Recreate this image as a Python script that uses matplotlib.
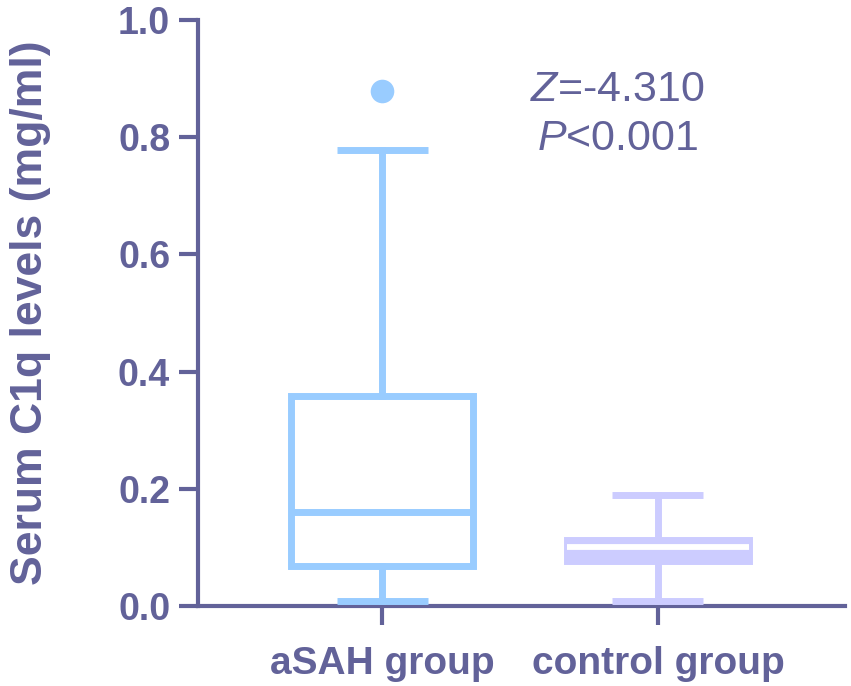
import matplotlib.pyplot as plt

plt.rcParams['font.family'] = ['Liberation Sans', 'DejaVu Sans']
plt.rcParams['mathtext.fontset'] = 'custom'
plt.rcParams['mathtext.it'] = 'Liberation Sans:italic'
plt.rcParams['mathtext.rm'] = 'Liberation Sans'

groups = ['aSAH group', 'control group']
whislo = [0.009, 0.009]
q1 = [0.069, 0.076]
med = [0.160, 0.101]
q3 = [0.359, 0.113]
whishi = [0.779, 0.190]
fliers = [[0.879], []]
yticks = [0.0, 0.2, 0.4, 0.6, 0.8, 1.0]

axis_col = '#626299'
blue = '#99CCFF'
lav = '#CCCCFF'

fig = plt.figure(figsize=(8.51, 6.86), dpi=100)
ax = fig.add_axes([0.2327, 0.1166, 0.7603, 0.8542])

stats = []
for i in range(len(groups)):
    stats.append(dict(whislo=whislo[i], q1=q1[i], med=med[i], q3=q3[i],
                      whishi=whishi[i], fliers=fliers[i], label=groups[i]))

pos = [1, 2]
cols = [blue, lav]
for i in range(len(groups)):
    filled = i == 1
    ax.bxp([stats[i]], positions=[pos[i]], widths=0.66, capwidths=0.33,
           patch_artist=True, manage_ticks=False,
           boxprops=dict(facecolor=cols[i] if filled else 'white', edgecolor=cols[i], linewidth=5),
           medianprops=dict(color='white' if filled else cols[i], linewidth=5 if not filled else 4.2,
                            solid_capstyle='butt'),
           whiskerprops=dict(color=cols[i], linewidth=5),
           capprops=dict(color=cols[i], linewidth=5, solid_capstyle='butt'),
           flierprops=dict(marker='o', markerfacecolor=cols[i], markeredgecolor='none',
                           markersize=17))

ax.set_xlim(0.333, 2.678)
ax.set_ylim(0, 1.0)
ax.set_xticks(pos)
ax.set_xticklabels(groups, fontsize=28, fontweight='bold', color=axis_col)
ax.set_yticks(yticks)
ax.set_yticklabels(['%.1f' % v for v in yticks], fontsize=27, fontweight='bold', color=axis_col)
ax.tick_params(axis='both', length=14, width=3, color=axis_col, pad=6)
ax.tick_params(axis='x', pad=15)

for s in ['top', 'right']:
    ax.spines[s].set_visible(False)
for s in ['left', 'bottom']:
    ax.spines[s].set_linewidth(3)
    ax.spines[s].set_color(axis_col)
    ax.spines[s].set_zorder(1)

ax.set_ylabel('Serum C1q levels (mg/ml)', fontsize=32, fontweight='bold', color=axis_col, labelpad=48)

ax.text(0.648, 0.88, r'$\mathit{Z}$=-4.310', transform=ax.transAxes, ha='center', va='center',
        fontsize=31, color=axis_col)
ax.text(0.648, 0.797, r'$\mathit{P}$<0.001', transform=ax.transAxes, ha='center', va='center',
        fontsize=31, color=axis_col)

fig.savefig('out.png', dpi=100)
